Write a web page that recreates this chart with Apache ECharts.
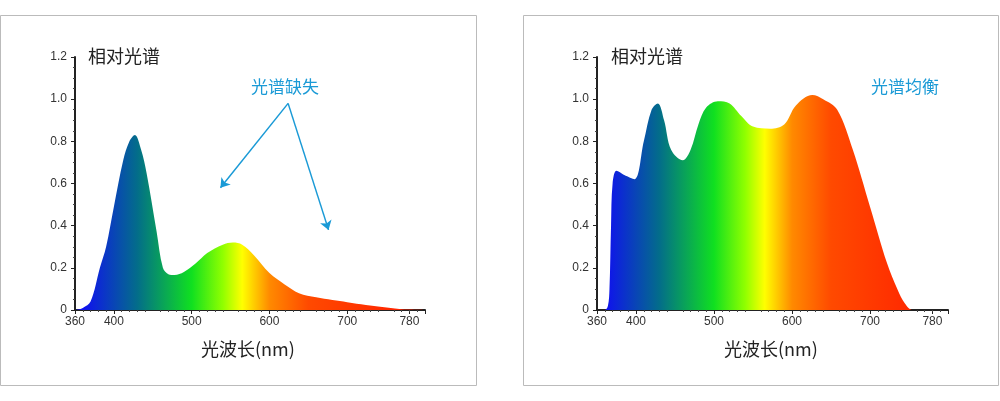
<!DOCTYPE html>
<html><head><meta charset="utf-8">
<script src="https://cdn.jsdelivr.net/npm/echarts@6/dist/echarts.min.js"></script>
<style>html,body{margin:0;padding:0;background:#fff}#c{width:1000px;height:401px}</style>
</head><body><div id="c"></div>
<script>
const xTickValues = [350, 400, 500, 600, 700, 780, 800];
const xTickLabels = ['360', '400', '500', '600', '700', '780', '800'];
const yTickLabels = ['0', '0.2', '0.4', '0.6', '0.8', '1.0', '1.2'];
const wlLeft = [350,360,370,382,390,400,412,420,427,435,442,455,463,470,478,490,505,520,540,553,565,580,600,620,638,660,681,700,724,745,767,780,800];
const valLeft = [0,0.01,0.04,0.2,0.3,0.49,0.71,0.8,0.83,0.76,0.65,0.37,0.2,0.17,0.166,0.18,0.22,0.27,0.31,0.32,0.31,0.26,0.175,0.12,0.08,0.06,0.047,0.037,0.024,0.014,0.005,0.002,0];
const wlRight = [350,360,364,366,368,370,375,385,398,410,420,428,436,445,460,470,480,490,505,520,535,550,572,590,605,626,640,658,678,700,722,735,745,755,800];
const valRight = [0,0,0.02,0.1,0.4,0.6,0.66,0.64,0.62,0.8,0.95,0.98,0.9,0.76,0.71,0.76,0.88,0.96,0.99,0.98,0.92,0.87,0.86,0.88,0.97,1.02,1.0,0.95,0.76,0.49,0.22,0.1,0.03,0,0];
const titleY = '相对光谱', titleX = '光波长(nm)', noteLeft = '光谱缺失', noteRight = '光谱均衡';

const colorStops = [[360,'#1010f0'],[430,'#036d8a'],[500,'#10e020'],[540,'#90ff00'],[565,'#ffff00'],[600,'#ff8a00'],[650,'#ff4a00'],[780,'#ff2000'],[800,'#ff2000']];
function grad(){return new echarts.graphic.LinearGradient(0,0,1,0,colorStops.map(s=>({offset:(s[0]-350)/450,color:s[1]})));}
const pts=(a,b)=>a.map((x,i)=>[x,b[i]]);
const lbl={color:'#333',fontSize:12,fontFamily:'Arial, Liberation Sans, sans-serif'};
function xa(i){return{gridIndex:i,type:'value',min:350,max:800,interval:50,
  axisLine:{lineStyle:{color:'#222',width:2}},
  axisTick:{customValues:xTickValues,length:4,lineStyle:{color:'#222'}},
  minorTick:{show:true,splitNumber:5,length:2,lineStyle:{color:'#444'}},
  axisLabel:Object.assign({customValues:xTickValues,formatter:v=>xTickLabels[xTickValues.indexOf(v)],margin:6},lbl),
  splitLine:{show:false}};}
function ya(i){return{gridIndex:i,type:'value',min:0,max:1.2,interval:0.2,
  axisLine:{show:true,lineStyle:{color:'#222',width:2}},
  axisTick:{show:true,length:4,lineStyle:{color:'#222'}},
  minorTick:{show:true,splitNumber:4,length:2,lineStyle:{color:'#444'}},
  axisLabel:Object.assign({formatter:v=>yTickLabels[Math.round(v/0.2)],margin:8},lbl),
  splitLine:{show:false}};}
const chart=echarts.init(document.getElementById('c'));
const arrow={color:'#1a9ad6',width:1.5,type:'solid'};
chart.setOption({
  animation:false,
  grid:[{left:75,top:57,width:350,height:253},{left:597,top:57,width:351,height:253}],
  xAxis:[xa(0),xa(1)], yAxis:[ya(0),ya(1)],
  graphic:[
    {type:'rect',shape:{x:0.5,y:15.5,width:476,height:370},style:{fill:'none',stroke:'#bbb',lineWidth:1}},
    {type:'rect',shape:{x:523.5,y:15.5,width:475,height:370},style:{fill:'none',stroke:'#bbb',lineWidth:1}},
    {type:'text',left:88,top:47,style:{text:titleY,fontSize:18,fill:'#222',fontFamily:'Noto Sans CJK SC'}},
    {type:'text',left:611,top:47,style:{text:titleY,fontSize:18,fill:'#222',fontFamily:'Noto Sans CJK SC'}},
    {type:'text',left:251,top:78,style:{text:noteLeft,fontSize:17,fill:'#1a9ad6',fontFamily:'Noto Sans CJK SC'}},
    {type:'text',left:871,top:78,style:{text:noteRight,fontSize:17,fill:'#1a9ad6',fontFamily:'Noto Sans CJK SC'}},
    {type:'text',left:201,top:340,style:{text:titleX,fontSize:18,fill:'#222',fontFamily:'Noto Sans CJK SC'}},
    {type:'text',left:724,top:340,style:{text:titleX,fontSize:18,fill:'#222',fontFamily:'Noto Sans CJK SC'}}
  ],
  series:[
    {type:'line',xAxisIndex:0,yAxisIndex:0,data:pts(wlLeft,valLeft),smooth:0.35,symbol:'none',
     lineStyle:{width:0},areaStyle:{color:grad(),opacity:1},
     markLine:{silent:true,symbol:['none','arrow'],symbolSize:9,lineStyle:arrow,label:{show:false},
       data:[[{coord:[624,0.98]},{coord:[537,0.58]}],[{coord:[624,0.98]},{coord:[676,0.38]}]]}},
    {type:'line',xAxisIndex:1,yAxisIndex:1,data:pts(wlRight,valRight),smooth:0.35,symbol:'none',
     lineStyle:{width:0},areaStyle:{color:grad(),opacity:1}}
  ]
});
</script></body></html>
